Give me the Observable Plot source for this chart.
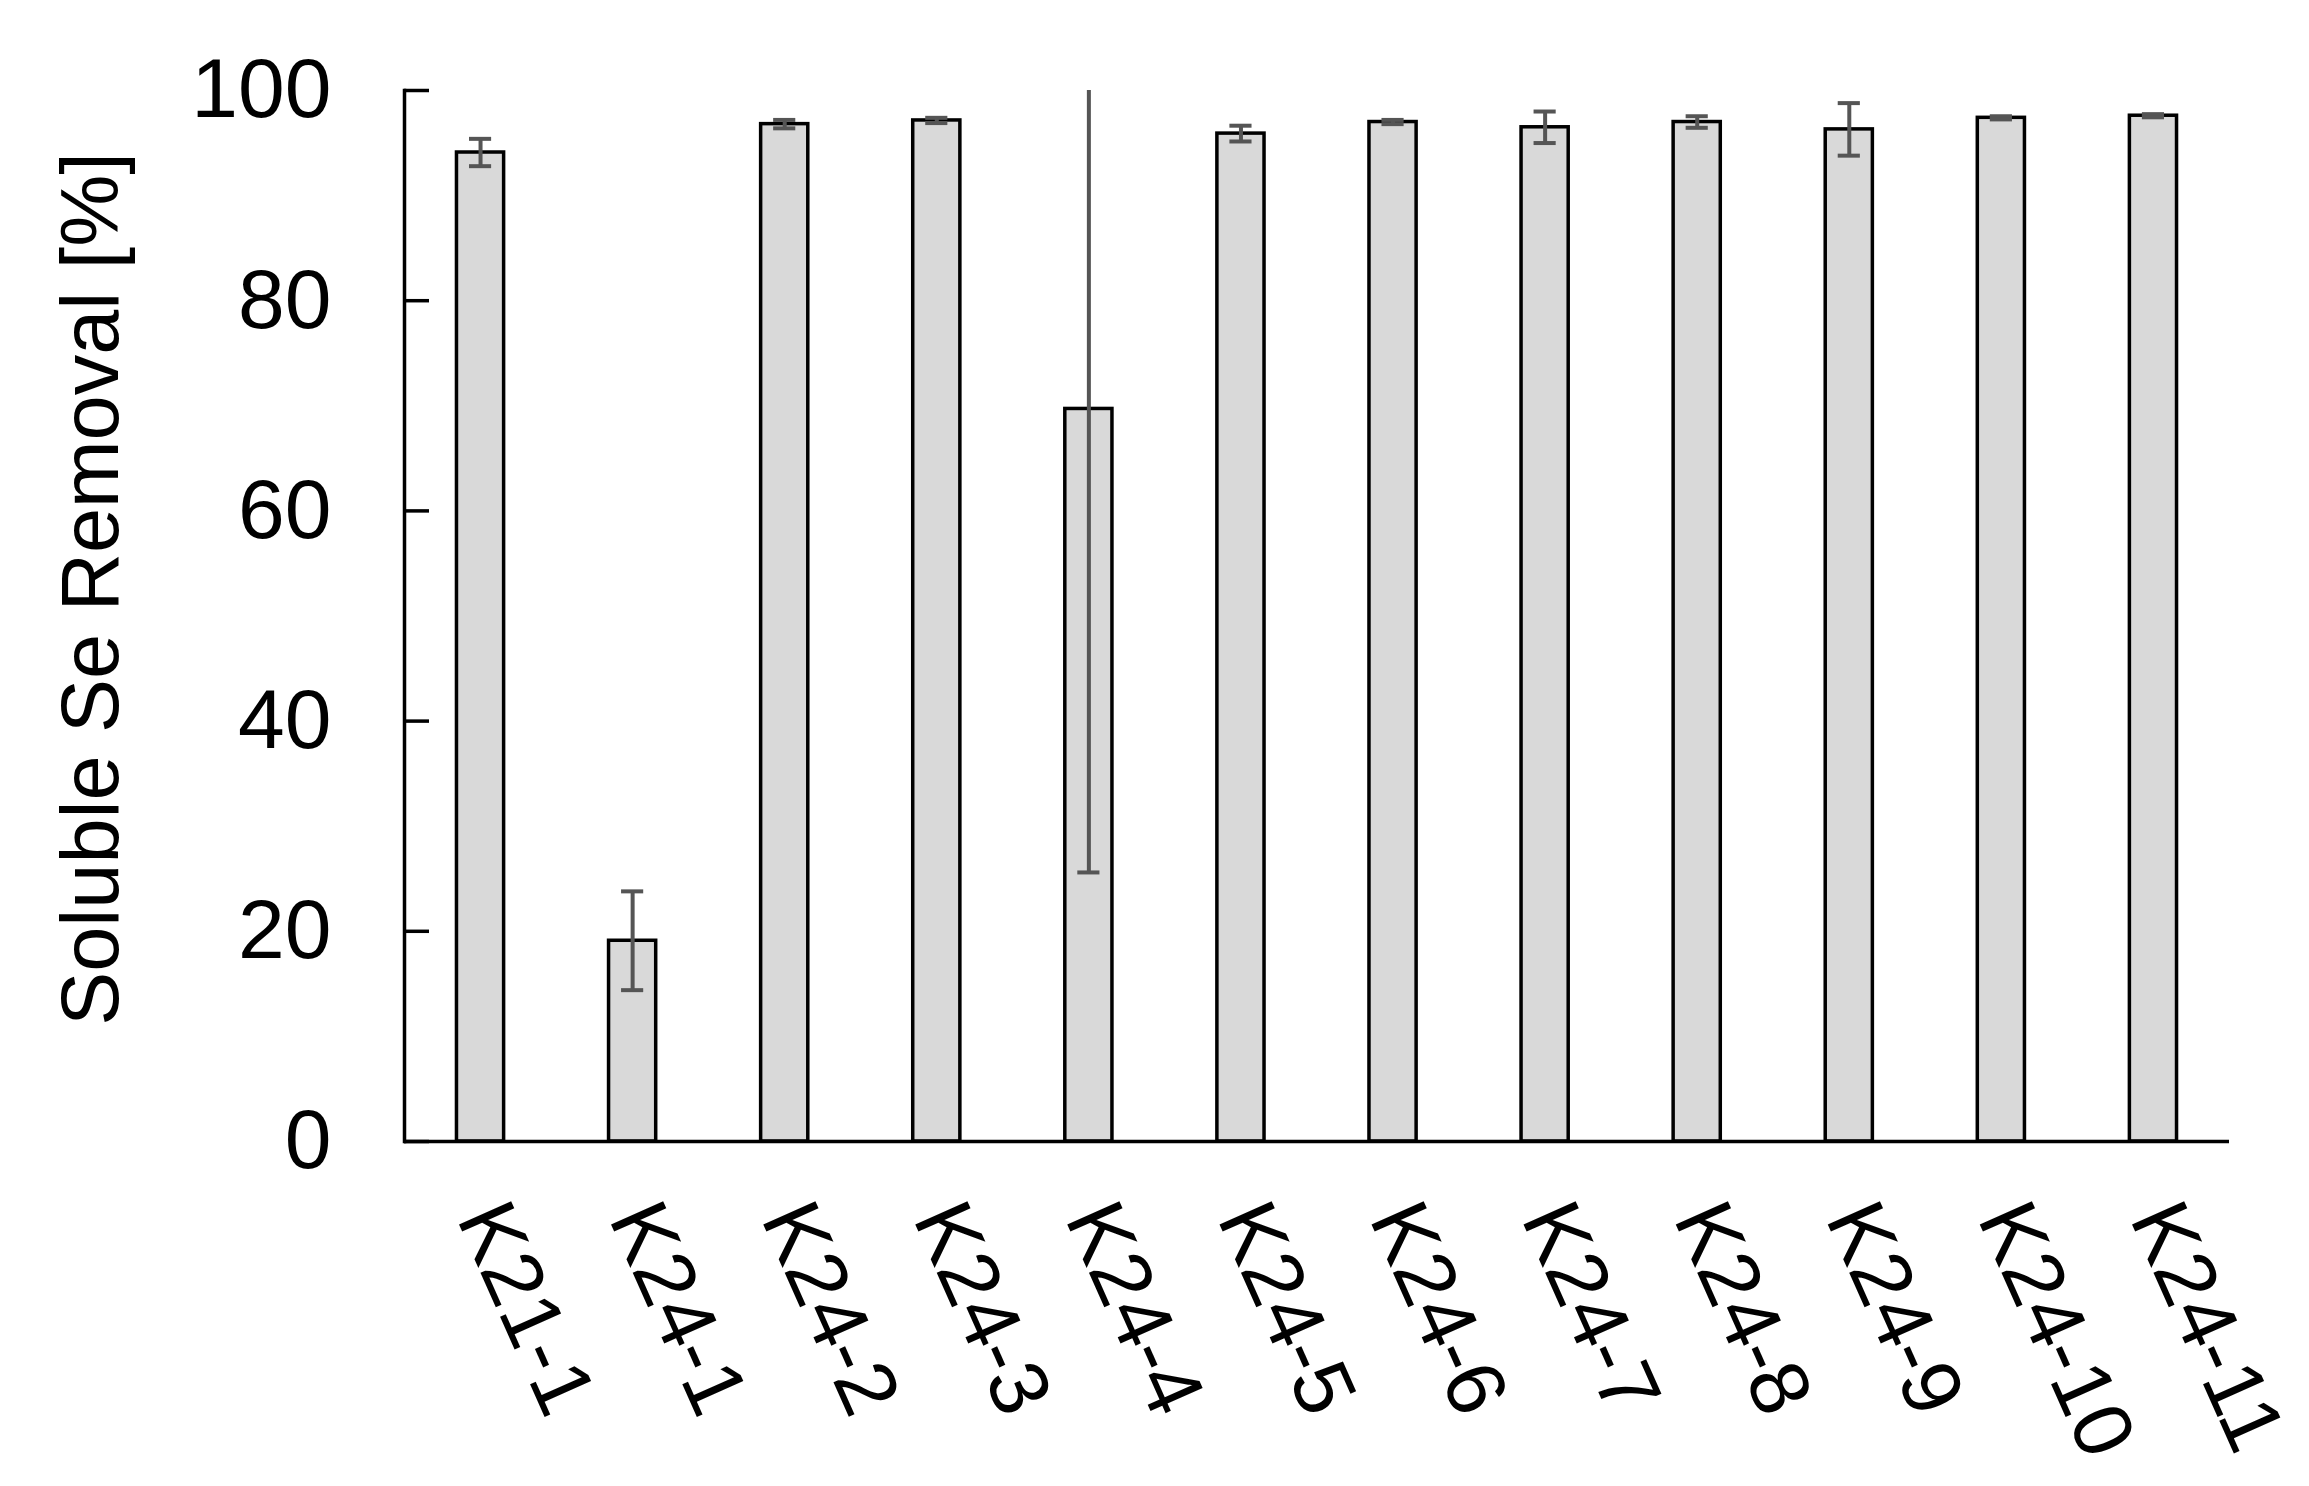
<!DOCTYPE html>
<html>
<head>
<meta charset="utf-8">
<script src="https://cdn.jsdelivr.net/npm/d3@7"></script>
<script src="https://cdn.jsdelivr.net/npm/@observablehq/plot@0.6"></script>
<style>
  html, body { margin: 0; padding: 0; background: white; }
  #chart svg { display: block; }
</style>
</head>
<body>
<div id="chart"></div>
<script>
const categories = ["K21-1", "K24-1", "K24-2", "K24-3", "K24-4", "K24-5", "K24-6", "K24-7", "K24-8", "K24-9", "K24-10", "K24-11"];
const values = [94.1, 19.1, 96.8, 97.15, 69.7, 95.9, 97.0, 96.5, 97.0, 96.3, 97.4, 97.6];
const errors = [1.3, 4.7, 0.4, 0.25, 44.1, 0.75, 0.2, 1.5, 0.55, 2.5, 0.15, 0.15];
const yTicks = [0, 20, 40, 60, 80, 100];
const yTitle = "Soluble Se Removal [%]";

const data = categories.map((name, i) => ({name, value: values[i], err: errors[i]}));

const W = 2309, H = 1486;
const mL = 404, mR = 80, mT = 90, mB = 345;

const chart = Plot.plot({
  width: W,
  height: H,
  marginLeft: mL,
  marginRight: mR,
  marginTop: mT,
  marginBottom: mB,
  style: {fontFamily: "'Liberation Sans', Arial, sans-serif", background: "white", color: "black"},
  x: {domain: categories, paddingInner: 0.69, paddingOuter: 0.345, round: false},
  y: {domain: [0, 100]},
  marks: [
    Plot.barY(data, {x: "name", y: "value", fill: "#d9d9d9", stroke: "black", strokeWidth: 3.5}),
    Plot.ruleX(data, {x: "name", y1: d => d.value - d.err, y2: d => d.value + d.err, stroke: "#555555", strokeWidth: 4, clip: true}),
    Plot.tickY(data, {x: "name", y: d => d.value + d.err, stroke: "#555555", strokeWidth: 4, insetLeft: 12.5, insetRight: 12.5, clip: true}),
    Plot.tickY(data, {x: "name", y: d => d.value - d.err, stroke: "#555555", strokeWidth: 4, insetLeft: 12.5, insetRight: 12.5, clip: true}),
    Plot.frame({anchor: "left", stroke: "black", strokeWidth: 3.5}),
    Plot.ruleY([0], {stroke: "black", strokeWidth: 3.5}),
    Plot.axisY({ticks: yTicks, tickSize: 25, dx: 25, tickPadding: 73, strokeWidth: 3.5, stroke: "black", fontSize: 84, label: null, fill: "black"}),
    Plot.axisX({tickRotate: 66, tickSize: 0, tickPadding: 66, fontSize: 83, label: null, fill: "black"})
  ]
});

d3.select(chart).append("text")
  .attr("transform", "translate(118,589) rotate(-90)")
  .attr("text-anchor", "middle")
  .attr("font-size", 81)
  .attr("fill", "black")
  .text(yTitle);

document.getElementById("chart").appendChild(chart);
</script>
</body>
</html>
